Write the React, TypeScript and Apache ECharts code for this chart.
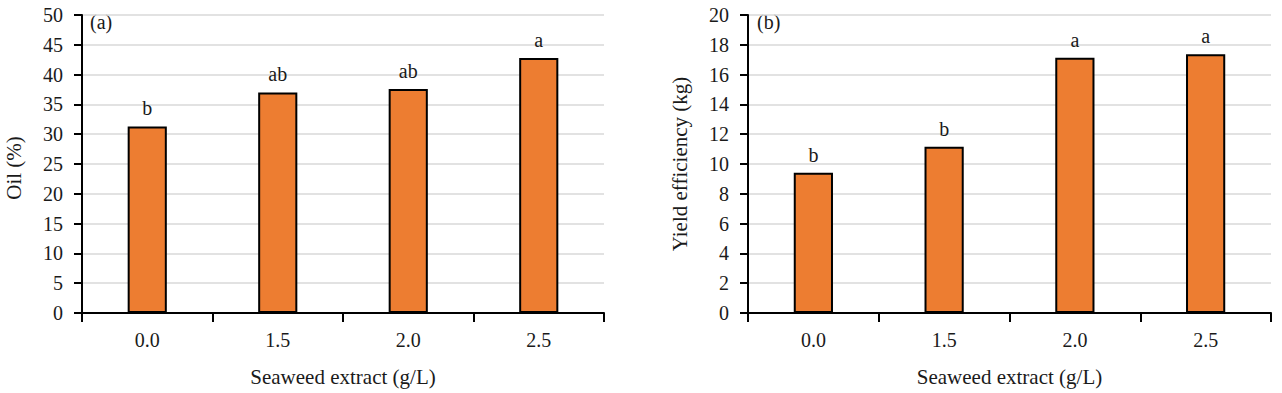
import React, { useEffect, useRef } from "react";
import * as echarts from "echarts";

const categories = ["0.0", "1.5", "2.0", "2.5"];
const oilValues = [31.3, 37.0, 37.6, 42.8];
const oilLetters = ["b", "ab", "ab", "a"];
const yieldValues = [9.42, 11.16, 17.13, 17.36];
const yieldLetters = ["b", "b", "a", "a"];
const xTitle = "Seaweed extract (g/L)";
const oilTitle = "Oil (%)";
const yieldTitle = "Yield efficiency (kg)";

const FONT = "'Liberation Serif', 'Times New Roman', serif";
const TXT = "#1a1a1a";

export default function App() {
  const ref = useRef<HTMLDivElement>(null);
  useEffect(() => {
    if (!ref.current) return;
    const chart = echarts.init(ref.current, undefined, { renderer: "svg" });
    const xAxisBase = (gridIndex: number) => ({
      type: "category" as const,
      gridIndex,
      data: categories,
      boundaryGap: true,
      name: xTitle,
      nameLocation: "middle" as const,
      nameGap: 53,
      nameTextStyle: { fontFamily: FONT, fontSize: 21, color: TXT, verticalAlign: "top" },
      axisLine: { lineStyle: { color: "#000", width: 2 } },
      axisTick: { show: true, alignWithLabel: false, length: 9, lineStyle: { color: "#000", width: 2 } },
      axisLabel: { fontFamily: FONT, fontSize: 20, color: TXT, margin: 17 },
      splitLine: { show: false },
    });
    const yAxisBase = (gridIndex: number, max: number, interval: number, name: string, pad: number[]) => ({
      type: "value" as const,
      gridIndex,
      min: 0,
      max,
      interval,
      name,
      nameLocation: "middle" as const,
      nameGap: 58,
      nameRotate: 90,
      nameTextStyle: { fontFamily: FONT, fontSize: 21, color: TXT, padding: pad },
      axisLine: { show: true, lineStyle: { color: "#000", width: 2 } },
      axisTick: { show: true, length: 8, lineStyle: { color: "#000", width: 2 } },
      axisLabel: { fontFamily: FONT, fontSize: 20, color: TXT, margin: 19 },
      splitLine: { show: true, lineStyle: { color: "#d9d9d9", width: 1.5 } },
    });
    const barSeries = (idx: number, values: number[], letters: string[]) => ({
      type: "bar" as const,
      xAxisIndex: idx,
      yAxisIndex: idx,
      data: values,
      barWidth: "30%",
      itemStyle: { color: "#ED7D31", borderColor: "#000", borderWidth: 2 },
      label: {
        show: true,
        position: "top" as const,
        distance: 8,
        fontFamily: FONT,
        fontSize: 20,
        color: TXT,
        formatter: (p: any) => letters[p.dataIndex],
      },
    });
    chart.setOption({
      animation: false,
      backgroundColor: "#fff",
      grid: [
        { left: 82, top: 15, width: 522, height: 298 },
        { left: 748, top: 15, width: 523, height: 298 },
      ],
      xAxis: [xAxisBase(0), xAxisBase(1)],
      yAxis: [
        yAxisBase(0, 50, 5, oilTitle, [0, 8, 0, 0]),
        yAxisBase(1, 20, 2, yieldTitle, [0, 0, 0, 0]),
      ],
      series: [barSeries(0, oilValues, oilLetters), barSeries(1, yieldValues, yieldLetters)],
      graphic: [
        { type: "text", left: 90, top: 12, style: { text: "(a)", fontFamily: FONT, fontSize: 20, fill: TXT } },
        { type: "text", left: 757, top: 12, style: { text: "(b)", fontFamily: FONT, fontSize: 20, fill: TXT } },
      ],
    });
    return () => chart.dispose();
  }, []);
  return (
    <div
      ref={ref}
      style={{ position: "fixed", left: 0, top: 0, width: 1282, height: 393 }}
    />
  );
}
